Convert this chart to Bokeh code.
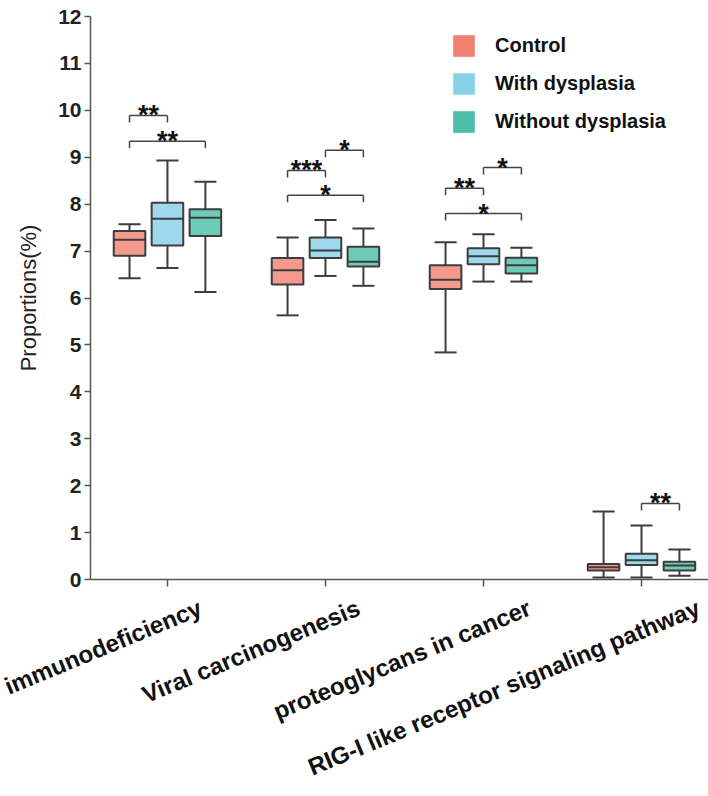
import math
from bokeh.plotting import figure
from bokeh.models import (ColumnDataSource, FixedTicker, Legend, LegendItem,
                          LinearAxis, Range1d)
from bokeh.core.properties import value
from bokeh.embed import file_html
from bokeh.resources import INLINE

# ---------------- data ----------------
categories = ["immunodeficiency", "Viral carcinogenesis",
              "proteoglycans in cancer", "RIG-I like receptor signaling pathway"]
groups = ["Control", "With dysplasia", "Without dysplasia"]

control_low = [6.42, 5.63, 4.84, 0.04]
control_q1 = [6.90, 6.29, 6.19, 0.19]
control_med = [7.24, 6.59, 6.39, 0.26]
control_q3 = [7.43, 6.85, 6.70, 0.33]
control_high = [7.57, 7.29, 7.19, 1.45]

with_low = [6.64, 6.47, 6.35, 0.04]
with_q1 = [7.12, 6.85, 6.72, 0.31]
with_med = [7.69, 7.01, 6.89, 0.41]
with_q3 = [8.03, 7.29, 7.06, 0.55]
with_high = [8.93, 7.66, 7.36, 1.15]

without_low = [6.13, 6.26, 6.35, 0.08]
without_q1 = [7.32, 6.67, 6.52, 0.19]
without_med = [7.71, 6.77, 6.70, 0.30]
without_q3 = [7.89, 7.09, 6.86, 0.38]
without_high = [8.48, 7.48, 7.07, 0.64]

# significance brackets: category, group from, group to, height, label
sig_category = [0, 0, 1, 1, 1, 2, 2, 2, 3]
sig_from = [0, 0, 1, 0, 0, 1, 0, 0, 1]
sig_to = [1, 2, 2, 1, 2, 2, 1, 2, 2]
sig_y = [9.89, 9.34, 9.15, 8.72, 8.19, 8.78, 8.34, 7.80, 1.62]
sig_text = ["**", "**", "*", "***", "*", "*", "**", "*", "**"]

y_ticks = list(range(0, 13))

# ---------------- style ----------------
FONT = "Liberation Sans"
legend_colors = ["#F07F72", "#87D1E6", "#4DBFA8"]
box_colors = ["#F4998C", "#9DD9EB", "#6DCBB8"]
edge = "#3d3d3d"
offsets = [-0.24, 0.0, 0.24]
box_w = 0.2
cap_w = 0.14
drop = 0.15
X0, X1 = -0.487, 3.424
FRAME_W = 618

series = [
    (control_low, control_q1, control_med, control_q3, control_high),
    (with_low, with_q1, with_med, with_q3, with_high),
    (without_low, without_q1, without_med, without_q3, without_high),
]

p = figure(width=708, height=796, output_backend="svg", toolbar_location=None,
           x_range=Range1d(X0, X1), y_range=Range1d(0, 12),
           min_border_left=90, min_border_right=0, min_border_top=16,
           min_border_bottom=217)
p.outline_line_color = None
p.xgrid.visible = False
p.ygrid.visible = False
p.background_fill_color = "white"

legend_renderers = []
for gi, (lo, q1, med, q3, hi) in enumerate(series):
    xs = [i + offsets[gi] for i in range(len(categories))]
    src = ColumnDataSource(dict(
        x=xs, lo=lo, q1=q1, med=med, q3=q3, hi=hi,
        cl=[x - cap_w / 2 for x in xs], cr=[x + cap_w / 2 for x in xs],
        ml=[x - box_w / 2 for x in xs], mr=[x + box_w / 2 for x in xs],
    ))
    # legend swatch renderer (hidden below the boxes)
    legend_renderers.append(p.vbar(x="x", width=box_w, bottom="q1", top="q3", source=src,
                                   fill_color=legend_colors[gi], line_color=None))
    p.segment(x0="x", y0="lo", x1="x", y1="q1", source=src, line_color=edge, line_width=2)
    p.segment(x0="x", y0="q3", x1="x", y1="hi", source=src, line_color=edge, line_width=2)
    p.segment(x0="cl", y0="lo", x1="cr", y1="lo", source=src, line_color=edge, line_width=2)
    p.segment(x0="cl", y0="hi", x1="cr", y1="hi", source=src, line_color=edge, line_width=2)
    p.vbar(x="x", width=box_w, bottom="q1", top="q3", source=src,
           fill_color=box_colors[gi], line_color=edge, line_width=2)
    p.segment(x0="ml", y0="med", x1="mr", y1="med", source=src, line_color=edge, line_width=2)

# significance brackets
xa = [c + offsets[f] for c, f in zip(sig_category, sig_from)]
xb = [c + offsets[t] for c, t in zip(sig_category, sig_to)]
bsrc = ColumnDataSource(dict(
    xa=xa, xb=xb, y=sig_y, yd=[y - drop for y in sig_y],
    xm=[(a + b) / 2 for a, b in zip(xa, xb)], t=sig_text))
p.segment(x0="xa", y0="y", x1="xb", y1="y", source=bsrc, line_color="#444444", line_width=1.5)
p.segment(x0="xa", y0="y", x1="xa", y1="yd", source=bsrc, line_color="#444444", line_width=1.5)
p.segment(x0="xb", y0="y", x1="xb", y1="yd", source=bsrc, line_color="#444444", line_width=1.5)
p.text(x="xm", y="y", text="t", source=bsrc, text_align="center",
       text_baseline="alphabetic", y_offset=0, text_font=value(FONT),
       text_font_style="bold", text_font_size="27px", text_color="#111111")

# y axis
p.yaxis.ticker = FixedTicker(ticks=y_ticks)
p.yaxis.minor_tick_line_color = None
p.yaxis.major_tick_out = 6
p.yaxis.major_tick_in = 0
p.yaxis.major_label_standoff = 3
p.yaxis.axis_line_color = "#555555"
p.yaxis.axis_line_width = 1.5
p.yaxis.major_tick_line_color = "#555555"
p.yaxis.major_tick_line_width = 1.5
p.yaxis.major_label_text_font = FONT
p.yaxis.major_label_text_font_style = "bold"
p.yaxis.major_label_text_font_size = "21px"
p.yaxis.major_label_text_color = "#222222"
p.yaxis.axis_label = "Proportions(%)"
p.yaxis.axis_label_text_font = FONT
p.yaxis.axis_label_text_font_style = "normal"
p.yaxis.axis_label_text_font_size = "22px"
p.yaxis.axis_label_text_color = "#222222"
p.yaxis.axis_label_standoff = 14

# x axis: tick marks at category centres
p.xaxis.ticker = FixedTicker(ticks=list(range(len(categories))))
p.xaxis.minor_tick_line_color = None
p.xaxis.major_tick_out = 7
p.xaxis.major_tick_in = 0
p.xaxis.axis_line_color = "#555555"
p.xaxis.axis_line_width = 1.5
p.xaxis.major_tick_line_color = "#555555"
p.xaxis.major_tick_line_width = 1.5
p.xaxis.major_label_overrides = {i: "" for i in range(len(categories))}
p.xaxis.major_label_text_font_size = "1px"
p.xaxis.major_label_standoff = 0

# x axis: rotated category labels (label anchors nudged right as in the original)
px_per_unit = FRAME_W / (X1 - X0)
label_dx_px = [24, 33, 46, 57]
label_pos = [i + d / px_per_unit for i, d in enumerate(label_dx_px)]
lab_axis = LinearAxis(ticker=FixedTicker(ticks=label_pos),
                      major_label_overrides={v: n for v, n in zip(label_pos, categories)},
                      major_label_orientation=0.393,
                      major_label_standoff=20,
                      major_tick_out=0, major_tick_in=0,
                      major_tick_line_color=None, minor_tick_line_color=None,
                      axis_line_color=None,
                      major_label_text_font=FONT,
                      major_label_text_font_style="bold",
                      major_label_text_font_size="24px",
                      major_label_text_color="#111111")
p.add_layout(lab_axis, "below")

# legend
items = [LegendItem(label=g, renderers=[r]) for g, r in zip(groups, legend_renderers)]
legend = Legend(items=items, location=(360, 444), glyph_width=27, glyph_height=27,
                label_height=27, label_standoff=18, spacing=11, padding=0, margin=0,
                border_line_color=None, background_fill_alpha=0,
                label_text_font=FONT, label_text_font_style="bold",
                label_text_font_size="20px", label_text_color="#111111")
p.add_layout(legend)

open("out.html", "w").write(file_html(p, INLINE))
